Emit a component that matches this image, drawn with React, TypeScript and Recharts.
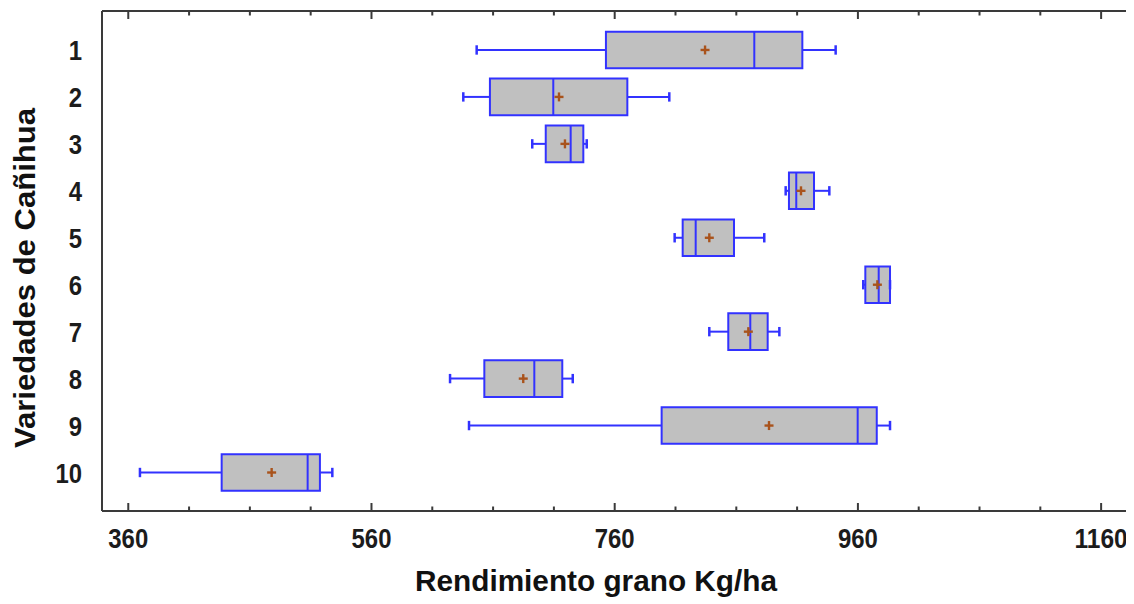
import React from 'react';
import {
  ComposedChart,
  XAxis,
  YAxis,
  Scatter,
  ReferenceArea,
  ReferenceLine,
} from 'recharts';

// ---------- data ----------
const varieties = [1, 2, 3, 4, 5, 6, 7, 8, 9, 10];
const whiskerLow = [646.5, 635.5, 692.2, 900.6, 809.3, 964.4, 837.8, 624.6, 640.2, 369.6];
const q1 = [752.8, 657.4, 703.3, 903.3, 815.9, 966.1, 853.4, 652.8, 798.6, 436.8];
const median = [874.8, 709.5, 723.8, 909.3, 826.6, 977.1, 871.5, 693.9, 959.8, 507.5];
const q3 = [914.3, 770.4, 734.2, 923.9, 858.1, 986.4, 885.8, 716.9, 975.5, 517.6];
const whiskerHigh = [941.7, 804.9, 737.0, 936.5, 883.0, 986.4, 895.4, 725.5, 986.4, 527.8];
const means = [834.3, 714.2, 719.1, 913.2, 837.8, 976.0, 869.9, 684.8, 886.9, 477.9];

const xTicks = [360, 410, 460, 510, 560, 610, 660, 710, 760, 810, 860, 910, 960, 1010, 1060, 1110, 1160];
const xMajorTicks = [360, 560, 760, 960, 1160];
const xDomain = [338.4, 1182.1];
const yDomain = [0.17, 10.82];

const xTitle = 'Rendimiento grano Kg/ha';
const yTitle = 'Variedades de Cañihua';

// ---------- styles ----------
const BOX_HALF = 0.39;
const CAP_HALF = 0.1;
const BLUE = '#3232ff';
const AXIS = '#3a3a3a';
const BROWN = '#a9531c';
const LABEL_FONT = "'Liberation Sans Narrow', 'Liberation Sans', Arial, sans-serif";
const TITLE_FONT = "'Liberation Sans', Arial, sans-serif";
const DIGIT_W = 13.3;

const meanData = varieties.map((v, i) => ({ x: means[i], y: v }));

const BottomTick = (props: any) => {
  const { x, y, payload } = props;
  const v = payload.value;
  const major = xMajorTicks.includes(v);
  const s = String(v);
  return (
    <g>
      <line x1={x} x2={x} y1={y} y2={y - (major ? 8 : 4.5)} stroke={AXIS} strokeWidth={2} />
      {major && (
        <text
          x={x}
          y={y + 37}
          textAnchor="middle"
          fontFamily={LABEL_FONT}
          fontWeight="bold"
          fontSize={28}
          fill="#1c1c1c"
          textLength={s.length * DIGIT_W}
          lengthAdjust="spacingAndGlyphs"
        >
          {s}
        </text>
      )}
    </g>
  );
};

const TopTick = (props: any) => {
  const { x, y, payload } = props;
  const v = payload.value;
  const major = xMajorTicks.includes(v);
  return <line x1={x} x2={x} y1={y} y2={y + (major ? 8 : 4.5)} stroke={AXIS} strokeWidth={2} />;
};

const LeftTick = (props: any) => {
  const { x, y, payload } = props;
  const s = String(payload.value);
  return (
    <text
      x={x}
      y={y}
      dy={10}
      textAnchor="end"
      fontFamily={LABEL_FONT}
      fontWeight="bold"
      fontSize={28}
      fill="#1c1c1c"
      textLength={s.length * DIGIT_W}
      lengthAdjust="spacingAndGlyphs"
    >
      {s}
    </text>
  );
};

const XTitle = (props: any) => {
  const vb = props.viewBox;
  return (
    <text
      x={vb.x + vb.width / 2 - 19}
      y={vb.y + 80}
      textAnchor="middle"
      fontFamily={TITLE_FONT}
      fontWeight="bold"
      fontSize={29}
      fill="#111"
      textLength={362}
      lengthAdjust="spacingAndGlyphs"
    >
      {xTitle}
    </text>
  );
};

const YTitle = (props: any) => {
  const vb = props.viewBox;
  const cx = 27;
  const cy = vb.y + vb.height / 2 + 17;
  return (
    <text
      x={cx}
      y={cy}
      transform={`rotate(-90, ${cx}, ${cy})`}
      textAnchor="middle"
      fontFamily={TITLE_FONT}
      fontWeight="bold"
      fontSize={30}
      fill="#111"
      textLength={340}
      lengthAdjust="spacingAndGlyphs"
    >
      {yTitle}
    </text>
  );
};

const MeanMarker = (props: any) => {
  const { cx, cy } = props;
  return (
    <g>
      <line x1={cx - 4.5} x2={cx + 4.5} y1={cy} y2={cy} stroke={BROWN} strokeWidth={2.4} />
      <line x1={cx} x2={cx} y1={cy - 4.5} y2={cy + 4.5} stroke={BROWN} strokeWidth={2.4} />
    </g>
  );
};

const NoShape = () => <g />;

export default function App() {
  return (
    <div style={{ width: 1126, height: 596, background: '#fff' }}>
      <ComposedChart
        width={1126}
        height={596}
        margin={{ top: 1, right: 4, bottom: 0, left: 0 }}
      >
        <XAxis
          type="number"
          dataKey="x"
          domain={xDomain}
          ticks={xTicks}
          interval={0}
          allowDataOverflow
          height={93}
          tickSize={0}
          tickMargin={0}
          tick={<BottomTick />}
          tickLine={false}
          axisLine={{ stroke: AXIS, strokeWidth: 2 }}
          label={<XTitle />}
        />
        <XAxis
          xAxisId="top"
          orientation="top"
          type="number"
          dataKey="x"
          domain={xDomain}
          ticks={xTicks}
          interval={0}
          allowDataOverflow
          height={2}
          tickSize={0}
          tickMargin={0}
          tick={<TopTick />}
          tickLine={false}
          axisLine={{ stroke: AXIS, strokeWidth: 2 }}
        />
        <YAxis
          type="number"
          dataKey="y"
          domain={yDomain}
          ticks={varieties}
          interval={0}
          reversed
          allowDataOverflow
          width={94}
          tickSize={0}
          tickMargin={20}
          tick={<LeftTick />}
          tickLine={false}
          axisLine={{ stroke: AXIS, strokeWidth: 2 }}
          label={<YTitle />}
        />
        <YAxis
          yAxisId="right"
          orientation="right"
          type="number"
          dataKey="y"
          domain={yDomain}
          ticks={varieties}
          reversed
          allowDataOverflow
          width={2}
          tick={false}
          tickLine={false}
          axisLine={{ stroke: AXIS, strokeWidth: 2 }}
        />

        {varieties.map((v, i) => (
          <ReferenceLine
            key={`wl-${v}`}
            segment={[{ x: whiskerLow[i], y: v }, { x: q1[i], y: v }]}
            stroke={BLUE}
            strokeWidth={2}
          />
        ))}
        {varieties.map((v, i) => (
          <ReferenceLine
            key={`wh-${v}`}
            segment={[{ x: q3[i], y: v }, { x: whiskerHigh[i], y: v }]}
            stroke={BLUE}
            strokeWidth={2}
          />
        ))}
        {varieties.map((v, i) => (
          <ReferenceLine
            key={`cl-${v}`}
            segment={[{ x: whiskerLow[i], y: v - CAP_HALF }, { x: whiskerLow[i], y: v + CAP_HALF }]}
            stroke={BLUE}
            strokeWidth={2.5}
          />
        ))}
        {varieties.map((v, i) => (
          <ReferenceLine
            key={`ch-${v}`}
            segment={[{ x: whiskerHigh[i], y: v - CAP_HALF }, { x: whiskerHigh[i], y: v + CAP_HALF }]}
            stroke={BLUE}
            strokeWidth={2.5}
          />
        ))}
        {varieties.map((v, i) => (
          <ReferenceArea
            key={`box-${v}`}
            x1={q1[i]}
            x2={q3[i]}
            y1={v - BOX_HALF}
            y2={v + BOX_HALF}
            fill="#c0c0c0"
            fillOpacity={1}
            stroke={BLUE}
            strokeWidth={2}
          />
        ))}
        {varieties.map((v, i) => (
          <ReferenceLine
            key={`med-${v}`}
            segment={[{ x: median[i], y: v - BOX_HALF }, { x: median[i], y: v + BOX_HALF }]}
            stroke={BLUE}
            strokeWidth={2}
          />
        ))}
        <Scatter
          data={meanData}
          dataKey="y"
          xAxisId="top"
          yAxisId="right"
          shape={<NoShape />}
          isAnimationActive={false}
        />
        <Scatter data={meanData} dataKey="y" shape={<MeanMarker />} isAnimationActive={false} />
      </ComposedChart>
    </div>
  );
}
